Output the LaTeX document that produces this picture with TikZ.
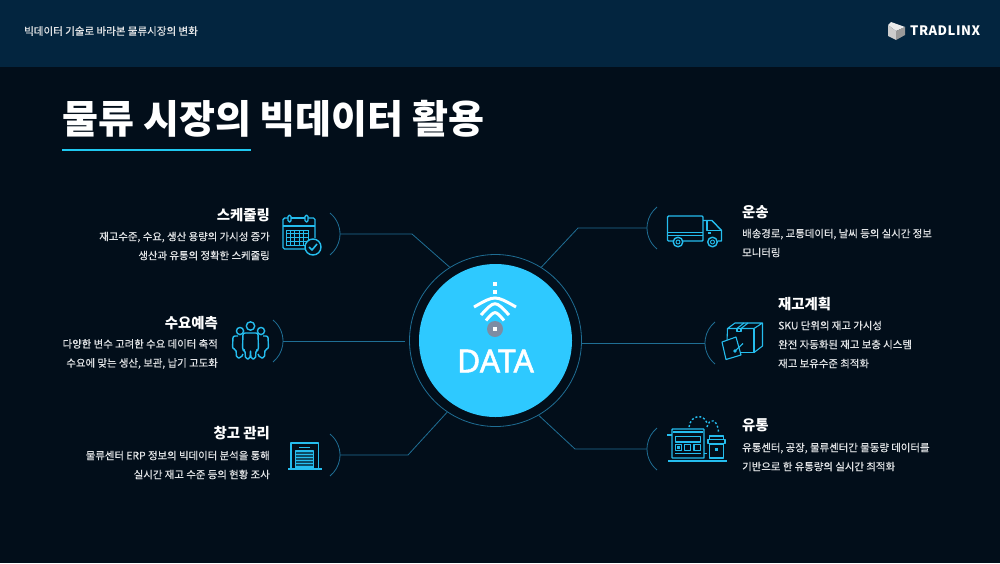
\documentclass[tikz,border=0pt]{standalone}
\usepackage{fontspec}
\setmainfont{Noto Sans CJK KR}
\newfontfamily\bodyfont{Noto Sans CJK KR}[FakeBold=0.5]
\newfontfamily\logofont{Noto Sans CJK KR}[LetterSpace=4]
\newfontfamily\hubfont{Noto Sans}[FakeBold=1.5]
\usetikzlibrary{arrows.meta}
\definecolor{pagebg}{HTML}{020E1A}
\definecolor{headerbg}{HTML}{03253F}
\definecolor{hubblue}{HTML}{2EC9FF}
\definecolor{rulecyan}{HTML}{1FC8F0}
\definecolor{iconblue}{HTML}{25BDEE}
\definecolor{linkblue}{HTML}{1F6E94}
\definecolor{bodygrey}{HTML}{E2E4E6}
\definecolor{dotgrey}{HTML}{7D8CA3}
\tikzset{
	itemtitle/.style={text=white,inner sep=0pt,font=\fontsize{14.4}{18}\selectfont\bfseries},
	itembody/.style={text=bodygrey,inner sep=0pt,font=\bodyfont\fontsize{10.4}{19}\selectfont},
	connector/.style={draw=linkblue,line width=0.8pt},
	iconline/.style={draw=iconblue,line width=1.4pt,line join=round},
	wifiline/.style={draw=white,line width=3pt}
}
\begin{document}
\begin{tikzpicture}[x=1pt,y=-1pt]
	\useasboundingbox (0,0) rectangle (1000,563);
	\fill[pagebg] (0,0) rectangle (1000,563);
	\fill[headerbg] (0,0) rectangle (1000,67);

	\node[anchor=west,text=bodygrey,inner sep=0pt,font=\bodyfont\fontsize{10.5}{12}\selectfont] (subject) at (24,31) {빅데이터 기술로 바라본 물류시장의 변화};
	\node[anchor=west,text=white,inner sep=0pt,font=\fontsize{39.1}{42}\selectfont\bfseries] (headline) at (62,119) {물류 시장의 빅데이터 활용};
	\draw[rulecyan,line width=2pt] (62,149.5) -- (251,149.5);

	\fill[white!92!black] (888,25) -- (891,22) -- (905,27) -- (896,31) -- cycle;
	\fill[white!80!black] (888,25) -- (896,31) -- (896,40) -- (888,36) -- cycle;
	\fill[white!60!black] (905,27) -- (905,35) -- (896,40) -- (896,31) -- cycle;
	\node[anchor=west,text=white,inner sep=0pt,font=\logofont\fontsize{13}{14}\selectfont\bfseries] (logo) at (910,31) {TRADLINX};

	\node[circle,draw=linkblue,line width=0.8pt,minimum size=172pt,inner sep=0pt] (ring) at (495.5,340.5) {};
	\node[circle,fill=hubblue,minimum size=153pt,inner sep=0pt] (hub) at (495.5,340.5) {};
	\node[text=white,inner sep=0pt,font=\hubfont\fontsize{32}{34}\selectfont] (data) at (495.5,361) {DATA};

	\fill[white] (493,282) rectangle (497,286);
	\fill[white] (493,290) rectangle (497,294);
	\draw[wifiline] (474,307) .. controls (495,295) .. (516,307);
	\draw[wifiline] (481,315) .. controls (495,300) .. (509,315);
	\draw[wifiline] (486,320.5) .. controls (495,310) .. (504,320.5);
	\fill[dotgrey] (495,329) circle (8);
	\fill[white] (493,327) rectangle (497,331);

	% left side
	\coordinate (schedArc) at (340,234);
	\coordinate (demandArc) at (283,341);
	\coordinate (storeArc) at (340,455);
	\draw[connector] (schedArc) -- ++(72,0) -- (ring.122);
	\draw[connector,shorten >=4pt] (demandArc) -- (demandArc -| ring.west);
	\draw[connector] (storeArc) -- ++(68,0) -- (ring.236);
	\draw[connector] (schedArc) ++(-27,0) ++(-51:27) arc[start angle=-51,end angle=51,radius=27];
	\draw[connector] (demandArc) ++(-27,0) ++(-51:27) arc[start angle=-51,end angle=51,radius=27];
	\draw[connector] (storeArc) ++(-27,0) ++(-51:27) arc[start angle=-51,end angle=51,radius=27];

	% right side
	\coordinate (truckArc) at (647,228);
	\coordinate (stockArc) at (705,343);
	\coordinate (shopArc) at (647,449);
	\draw[connector] (truckArc) -- ++(-69,0) -- (ring.58);
	\draw[connector] (stockArc) -- (stockArc -| ring.east);
	\draw[connector] (shopArc) -- ++(-72,0) -- (ring.-60);
	\draw[connector] (truckArc) ++(27,0) ++(129:27) arc[start angle=129,end angle=231,radius=27];
	\draw[connector] (stockArc) ++(27,0) ++(129:27) arc[start angle=129,end angle=231,radius=27];
	\draw[connector] (shopArc) ++(27,0) ++(129:27) arc[start angle=129,end angle=231,radius=27];

	\node[itemtitle,anchor=east] (schedTitle) at (270,215) {스케줄링};
	\node[itembody,anchor=east,align=right] (schedBody) at (270,246) {재고수준, 수요, 생산 용량의 가시성 증가\\생산과 유통의 정확한 스케줄링};
	\node[itemtitle,anchor=east] (demandTitle) at (218,323) {수요예측};
	\node[itembody,anchor=east,align=right] (demandBody) at (218,354) {다양한 변수 고려한 수요 데이터 축적\\수요에 맞는 생산, 보관, 납기 고도화};
	\node[itemtitle,anchor=east] (storeTitle) at (270,433) {창고 관리};
	\node[itembody,anchor=east,align=right] (storeBody) at (270,465) {물류센터 ERP 정보의 빅데이터 분석을 통해\\실시간 재고 수준 등의 현황 조사};

	\node[itemtitle,anchor=west] (truckTitle) at (742,212) {운송};
	\node[itembody,anchor=west,align=left] (truckBody) at (742,243) {배송경로, 교통데이터, 날씨 등의 실시간 정보\\모니터링};
	\node[itemtitle,anchor=west] (stockTitle) at (778,304) {재고계획};
	\node[itembody,anchor=west,align=left] (stockBody) at (778,344.5) {SKU 단위의 재고 가시성\\완전 자동화된 재고 보충 시스템\\재고 보유수준 최적화};
	\node[itemtitle,anchor=west] (shopTitle) at (742,425) {유통};
	\node[itembody,anchor=west,align=left] (shopBody) at (742,457) {유통센터, 공장, 물류센터간 물동량 데이터를\\기반으로 한 유통량의 실시간 최적화};

	% calendar
	\draw[iconline,rounded corners=1.5pt] (288,218) -- (283,218) -- (283,249) -- (305,249);
	\draw[iconline] (291,218) -- (305,218);
	\draw[iconline,rounded corners=1.5pt] (308,218) -- (315,218) -- (315,238);
	\draw[iconline] (283,226) -- (315,226);
	\draw[iconline,rounded corners=1.5pt] (288,215) rectangle (291,222);
	\draw[iconline,rounded corners=1.5pt] (305,215) rectangle (308,222);
	\foreach \gx in {286,290.4,...,308}
		\draw[iconblue,line width=0.9pt] (\gx,230) -- (\gx,245);
	\foreach \gy in {230,233.75,...,245}
		\draw[iconblue,line width=0.9pt] (286,\gy) -- (308,\gy);
	\fill[pagebg] (313,247) circle (8);
	\draw[iconline] (313,247) circle (8);
	\draw[iconline,line width=1.6pt] (309,247) -- (312,250) -- (317,244);

	% people
	\draw[iconline] (240,331) circle (3.6);
	\draw[iconline] (261,331) circle (3.6);
	\draw[iconline] (250.5,326) circle (4.2);
	\draw[iconline,rounded corners=2pt] (238,336) -- (233,336) -- (232.5,349) -- (236,349) -- (236.5,358) -- (241,358) -- (243,354);
	\draw[iconline,rounded corners=2pt] (263,336) -- (268,336) -- (268.5,349) -- (265,349) -- (264.5,358) -- (260,358) -- (258,354);
	\draw[iconline,rounded corners=2pt] (243,333) -- (258,333) -- (258.5,350) -- (256,350) -- (255.5,359) -- (251,359) -- (250.5,350) -- (250,359) -- (245.5,359) -- (245,350) -- (242.5,350) -- cycle;

	% warehouse
	\draw[iconline,line width=1.8pt] (291,469) -- (291,443) -- (318.5,443) -- (318.5,469);
	\draw[iconline,line width=1.8pt] (288,469) -- (322,469);
	\draw[iconline] (299,447.5) -- (310,447.5);
	\draw[iconline,fill=iconblue!35!pagebg] (295.5,451) rectangle (313.5,468);
	\foreach \sy in {454.5,457.5,...,467}
		\draw[iconblue,line width=1.2pt] (296,\sy) -- (313,\sy);

	% truck
	\draw[iconline,rounded corners=1pt] (667.5,216) rectangle (703,241);
	\draw[iconline] (667.5,232.5) -- (703,232.5);
	\draw[iconline] (667.5,235.5) -- (703,235.5);
	\draw[iconline] (703,220.5) -- (712,220.5) -- (721.5,230.5) -- (721.5,241) -- (718,241);
	\draw[iconline] (707,221) -- (707,230.5) -- (721,230.5);
	\draw[iconline] (707.5,233) -- (711,233);
	\draw[iconline,fill=pagebg] (678,242) circle (4.8);
	\draw[iconline,fill=pagebg] (712.5,242) circle (4.8);
	\draw[iconblue,line width=0.9pt] (678,242) circle (2);
	\draw[iconblue,line width=0.9pt] (712.5,242) circle (2);

	% box
	\draw[iconline,line width=1.1pt] (727.5,328.5) -- (735,323) -- (762.5,323) -- (754,328.5) -- cycle;
	\draw[iconline,line width=1.1pt] (727.5,328.5) -- (727,341);
	\draw[iconline,line width=1.1pt] (754,328.5) -- (754,352.5) -- (741,352.5);
	\draw[iconline,line width=1.1pt] (762.5,323) -- (762.5,346) -- (754,352.5);
	\draw[iconline,line width=1.1pt] (737,328.5) -- (744,323);
	\draw[iconline,line width=1.1pt] (741,328.5) -- (748,323);
	\draw[iconline,line width=1.1pt] (737,328.5) -- (737,331.5) -- (741,331.5) -- (741,328.5);
	\draw[iconline,fill=pagebg,line width=1.1pt] (722,342) -- (736,337) -- (741,355) -- (726,359.5) -- cycle;
	\draw[iconline,line width=1.1pt] (735,351) -- (743,343.5);
	\fill[iconblue] (735,351) circle (1.8);

	% store
	\draw[iconline] (668,461) -- (727,461);
	\draw[iconline,rounded corners=0.5pt] (672,429) rectangle (704,458);
	\draw[iconline,line width=2pt] (673,431.5) -- (703,431.5);
	\draw[iconline] (675.5,436.5) rectangle (700.5,442);
	\draw[iconline] (675.5,444.5) rectangle (681.5,450.5);
	\fill[iconblue] (677,446) rectangle (680,449);
	\draw[iconline] (684.5,444.5) rectangle (690.5,450.5);
	\draw[iconline] (694,444.5) rectangle (700.5,450.5);
	\draw[iconline] (675,453.5) -- (701,453.5);
	\draw[iconline] (667,435) -- (672,435);
	\draw[iconline] (704,453.5) -- (707,453.5);
	\draw[iconline] (709.5,444) rectangle (723.5,458);
	\draw[iconline] (709.5,436) rectangle (723.5,439.5);
	\draw[iconline,fill=pagebg] (708,439.5) rectangle (725,443.5);
	\fill[iconblue] (715,448) rectangle (718,451);
	\draw[iconblue,line width=1.4pt,dash pattern=on 2pt off 2pt] (689,427) .. controls (691,414) and (704,414) .. (707,423);
	\draw[iconblue,line width=1.4pt,dash pattern=on 2pt off 2pt] (707,427) .. controls (709,418) and (718,418) .. (718.5,433);
\end{tikzpicture}
\end{document}
